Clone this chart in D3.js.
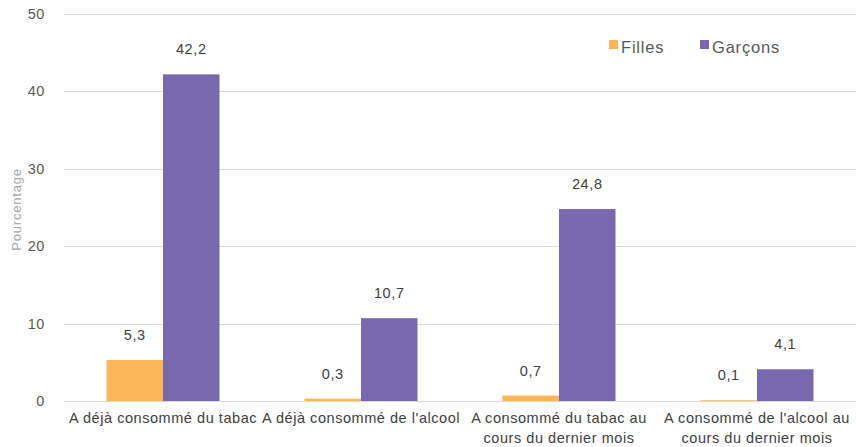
<!DOCTYPE html>
<html><head><meta charset="utf-8">
<script src="https://cdn.jsdelivr.net/npm/d3@7"></script>
<style>body{margin:0;background:#fff}svg{display:block}</style>
</head><body><svg id="c" width="856" height="447"></svg>
<script>
const categories = [["A déjà consommé du tabac"],["A déjà consommé de l'alcool"],["A consommé du tabac au","cours du dernier mois"],["A consommé de l'alcool au","cours du dernier mois"]];
const series = ["Filles","Garçons"];
const filles = [5.3,0.3,0.7,0.1];
const garcons = [42.2,10.7,24.8,4.1];
const yTicks = [0,10,20,30,40,50];
const colors = ["#FDB55A","#7A68AF"];

const svg = d3.select("#c");
const font = "'Liberation Sans', Arial, sans-serif";
const m = {left:64,right:0,top:14,bottom:46};
const W=856,H=447;
const x = d3.scaleBand().domain(d3.range(categories.length)).range([m.left,W-m.right]).paddingInner(0).paddingOuter(0);
const y = d3.scaleLinear().domain([0,50]).range([H-m.bottom,m.top]);
const bw = 56.5;
const x1 = d3.scaleBand().domain([0,1]).range([x.bandwidth()/2-bw, x.bandwidth()/2+bw]);

// grid
svg.append("g").selectAll("line").data(yTicks).join("line")
  .attr("x1",m.left).attr("x2",W-m.right)
  .attr("y1",d=>Math.round(y(d))+0.5).attr("y2",d=>Math.round(y(d))+0.5)
  .attr("stroke","#d9d9d9").attr("stroke-width",1);
svg.append("g").selectAll("text").data(yTicks).join("text")
  .attr("x",45).attr("y",d=>y(d)).attr("dy","0.35em").attr("text-anchor","end")
  .attr("font-family",font).attr("font-size",14.5).attr("letter-spacing",0.6).attr("fill","#595959").text(d=>d);

svg.append("text").attr("transform",`translate(21,${(y(0)+y(50))/2+2}) rotate(-90)`)
  .attr("text-anchor","middle").attr("font-family",font).attr("font-size",13).attr("letter-spacing",0.8).attr("fill","#a6a6a6").text("Pourcentage");

const data = [filles,garcons];
data.forEach((vals,si)=>{
  const g = svg.append("g");
  g.selectAll("rect").data(vals).join("rect")
    .attr("x",(d,i)=>x(i)+x1(si)).attr("width",x1.bandwidth())
    .attr("y",d=>y(d)).attr("height",d=>y(0)-y(d)).attr("fill",colors[si]);
  g.selectAll("text").data(vals).join("text")
    .attr("x",(d,i)=>x(i)+x1(si)+x1.bandwidth()/2).attr("y",d=>y(d)-20)
    .attr("text-anchor","middle").attr("font-family",font).attr("font-size",14.5).attr("letter-spacing",0.6).attr("fill","#404040")
    .text(d=>d.toFixed(1).replace(".",","));
});
// baseline
svg.append("line").attr("x1",m.left).attr("x2",W).attr("y1",Math.round(y(0))+0.5).attr("y2",Math.round(y(0))+0.5).attr("stroke","#d9d9d9");

// x labels
categories.forEach((lines,i)=>{
  const t = svg.append("text").attr("text-anchor","middle").attr("font-family",font).attr("font-size",14.5).attr("letter-spacing",0.55).attr("fill","#404040");
  lines.forEach((l,j)=>t.append("tspan").attr("x",x(i)+x.bandwidth()/2).attr("y",y(0)+22+j*20).text(l));
});

// legend
const lg = svg.append("g");
const lx=[609,700];
series.forEach((s,i)=>{
  lg.append("rect").attr("x",lx[i]).attr("y",40).attr("width",9).attr("height",9).attr("fill",colors[i]);
  lg.append("text").attr("x",lx[i]+12).attr("y",53).attr("font-family",font).attr("font-size",16.5).attr("letter-spacing",0.8).attr("fill","#595959").text(s);
});
</script></body></html>
